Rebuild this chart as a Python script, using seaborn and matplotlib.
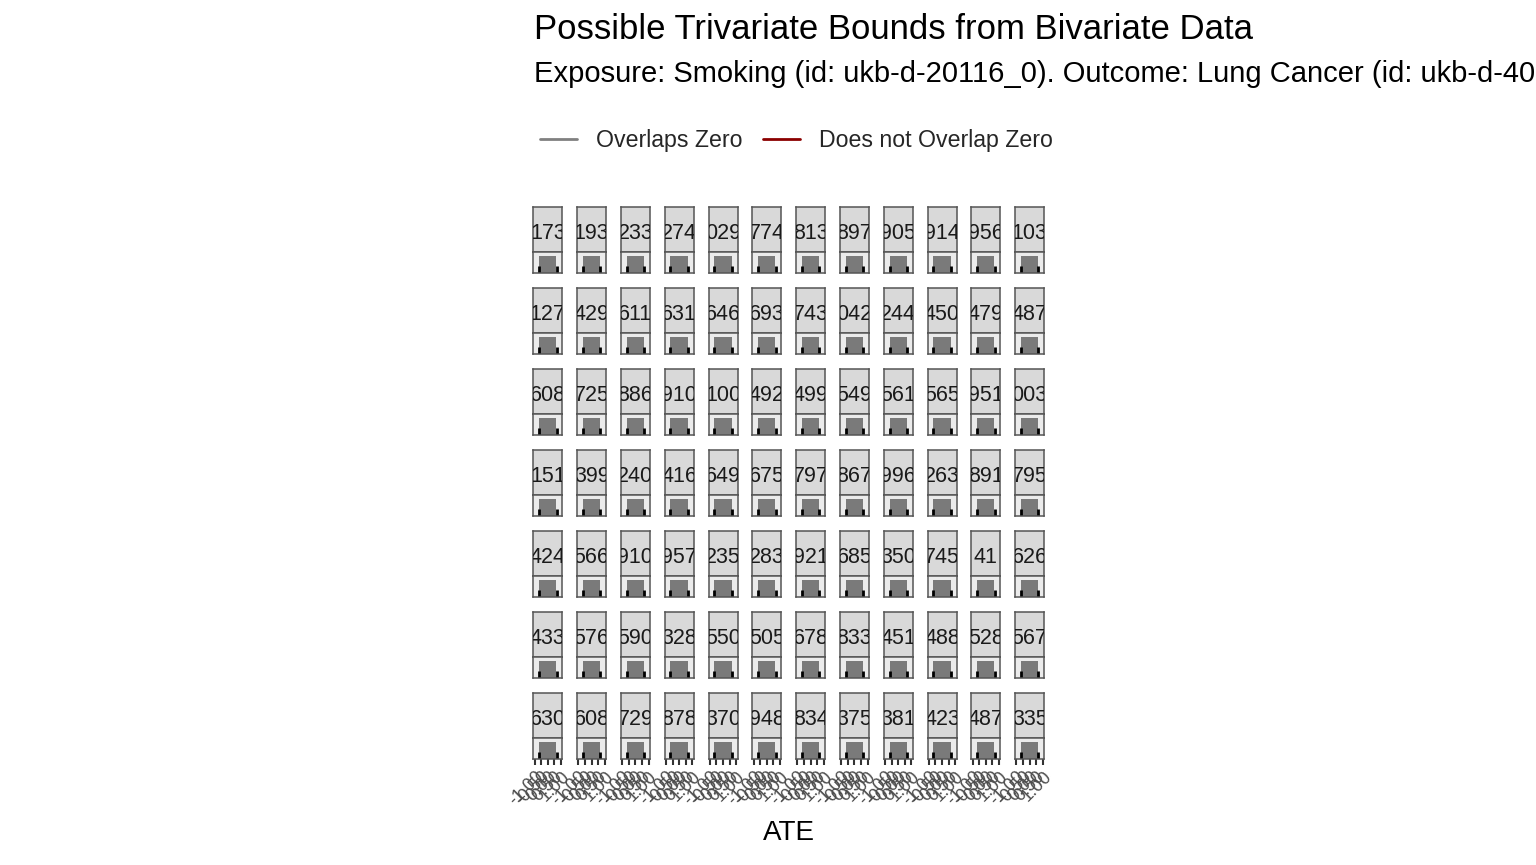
import seaborn as sns
import matplotlib.pyplot as plt
from matplotlib.lines import Line2D
import numpy as np

# strip labels (only the visible, clipped part of each SNP id)
snp_rows = [
    ["173", "193", "233", "274", "029", "774", "813", "897", "905", "914", "956", "103"],
    ["127", "429", "611", "631", "646", "693", "743", "042", "244", "450", "479", "487"],
    ["608", "725", "886", "910", "100", "492", "499", "549", "561", "565", "951", "003"],
    ["151", "399", "240", "416", "649", "675", "797", "867", "996", "263", "891", "795"],
    ["424", "566", "910", "957", "235", "283", "921", "685", "350", "745", "41", "626"],
    ["433", "576", "590", "328", "550", "505", "678", "833", "451", "488", "528", "567"],
    ["630", "608", "729", "878", "370", "948", "834", "375", "381", "423", "487", "335"],
]
snps = [s for row in snp_rows for s in row]

# bounds per SNP (every panel looks the same in the picture)
ate_lower = [-0.66] * len(snps)
ate_upper = [0.66] * len(snps)
x_ticks = [-1.0, -0.5, 0.0, 0.5, 1.0]
x_tick_labels = ["-1.00", "-0.50", "0.00", "0.50", "1.00"]

sns.set_theme(style="white")
plt.rcParams['font.family'] = ['Liberation Sans', 'DejaVu Sans']

W, H = 1536, 865
fig = plt.figure(figsize=(W / 100, H / 100), dpi=100)


def px(x0, y0, w, h):
    return [x0 / W, 1 - (y0 + h) / H, w / W, h / H]


edge = '#555555'
n_rows, n_cols = 7, 12
for i in range(n_rows):
    for j in range(n_cols):
        k = i * n_cols + j
        x0 = 533.3 + 43.8 * j
        y0 = 206.7 + 81 * i
        # strip
        sa = fig.add_axes(px(x0, y0, 29, 45.3))
        sa.set_facecolor('#d9d9d9')
        sa.set_xticks([])
        sa.set_yticks([])
        for sp in sa.spines.values():
            sp.set_color(edge)
            sp.set_linewidth(1.1)
        sa.text(0.5, 0.46, snps[k], transform=sa.transAxes, ha='center', va='center_baseline',
                fontsize=15.5, color='#1a1a1a', clip_on=True)
        # panel
        ax = fig.add_axes(px(x0, y0 + 45.3, 29, 20.7))
        ax.set_facecolor('#ebebeb')
        ax.set_xlim(-1.1, 1.1)
        ax.set_ylim(0, 1)
        ax.axvspan(ate_lower[k], ate_upper[k], ymin=0, ymax=0.83, color='#7a7a7a', lw=0)
        ax.vlines([ate_lower[k], ate_upper[k]], 0, 0.34, color='black', lw=2)
        for sp in ax.spines.values():
            sp.set_color(edge)
            sp.set_linewidth(1.1)
        ax.set_yticks([])
        if i == n_rows - 1:
            ax.set_xticks(x_ticks)
            ax.set_xticklabels(x_tick_labels, rotation=45, ha='right', rotation_mode='anchor',
                               fontsize=13, color='#4d4d4d')
            ax.tick_params(axis='x', length=4.5, width=1.5, color='#333333', pad=2, bottom=True)
        else:
            ax.set_xticks([])

fig.text(534 / W, 1 - 39 / H, "Possible Trivariate Bounds from Bivariate Data",
         fontsize=25, ha='left', va='baseline', color='black')
fig.text(534 / W, 1 - 82 / H,
         "Exposure: Smoking (id: ukb-d-20116_0). Outcome: Lung Cancer (id: ukb-d-40001)",
         fontsize=21, ha='left', va='baseline', color='black')
fig.text(789 / W, 1 - 833 / H, "ATE", fontsize=20, ha='center', va='center', color='black')

handles = [Line2D([], [], color='#808080', lw=2), Line2D([], [], color='#8b0000', lw=2)]
fig.legend(handles, ["Overlaps Zero", "Does not Overlap Zero"], loc='center left',
           bbox_to_anchor=(540 / W, 1 - 141 / H), ncol=2, frameon=False, fontsize=16.7,
           handlelength=1.6, handletextpad=0.8, columnspacing=0.9, borderpad=0, borderaxespad=0)

fig.savefig('out.png', dpi=100)
